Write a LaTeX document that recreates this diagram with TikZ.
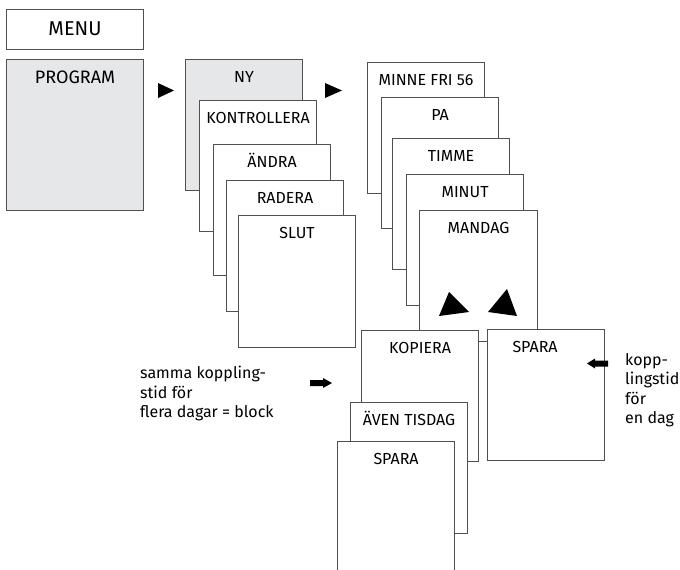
\documentclass[tikz,border=0pt]{standalone}
\usepackage{fontspec}
\setmainfont{Fira Sans}
\definecolor{boxgray}{HTML}{E6E7E8}
\definecolor{edge}{HTML}{505050}
\tikzset{
  x=1pt,y=-1pt,
  screen/.style={draw=edge, line width=1.1pt, fill=white, anchor=north west,
    minimum width=117pt, minimum height=131pt, inner sep=0pt},
  shaded/.style={fill=boxgray},
  lbl/.style={anchor=base, inner sep=0pt, font=\fontsize{16}{19.5}\selectfont},
  note/.style={anchor=north west, inner sep=0pt, align=left, font=\fontsize{16}{19.5}\selectfont},
  tri/.style={fill=black, draw=none},
}
\newcommand{\screenbox}[5]{% name, x, y, label, extra style
  \node[screen,#5] (#1) at (#2,#3) {};
  \node[lbl] (#1t) at ([yshift=-23pt]#1.north) {#4};
}
\begin{document}
\begin{tikzpicture}
\useasboundingbox (0,0) rectangle (680,570);
% menu column
\node[screen, minimum width=137pt, minimum height=40pt] (menu) at (6,9) {};
\node[anchor=center, inner sep=0pt, font=\fontsize{20}{24}\selectfont] (menut) at ([yshift=1pt]menu.center) {MENU};
\node[screen, shaded, minimum width=137pt, minimum height=151pt] (prog) at (6,59) {};
\node[lbl, font=\fontsize{18}{22}\selectfont] (progt) at ([yshift=-24pt]prog.north) {PROGRAM};
% arrows
\fill[tri] (158,83) -- (158,98) -- (174,90.5) -- cycle;
\fill[tri] (325,83) -- (325,98) -- (342,90.5) -- cycle;
% stack 1
\screenbox{ny}{185}{59}{NY}{shaded}
\screenbox{kon}{199}{100}{KONTROLLERA}{}
\screenbox{and}{213}{144}{ÄNDRA}{}
\screenbox{rad}{226}{180}{RADERA}{}
\screenbox{slut}{238}{215}{SLUT}{minimum height=132pt}
% stack 2
\screenbox{minne}{367}{62}{MINNE FRI 56}{}
\screenbox{pa}{381}{97}{PA}{}
\screenbox{timme}{392}{138}{TIMME}{}
\screenbox{minut}{406}{174}{MINUT}{}
\screenbox{mandag}{419}{210}{MANDAG}{minimum width=118pt}
\fill[tri] (449,292) -- (439,316) -- (469,312) -- cycle;
\fill[tri] (507,289) -- (488,312) -- (517,316) -- cycle;
% lower
\screenbox{kop}{361}{330}{KOPIERA}{}
\node[screen] (spara) at (487,329) {};
\node[lbl] (sparat) at ([xshift=-11pt,yshift=-23pt]spara.north) {SPARA};
\screenbox{aven}{350}{402}{ÄVEN TISDAG}{}
\screenbox{spara2}{337}{441}{SPARA}{minimum height=140pt}
% block arrows
\fill[tri] (310,380) -- (323,380) -- (323,378) -- (332,383) -- (323,388) -- (323,386) -- (310,386) -- cycle;
\fill[tri] (608,360.5) -- (595,360.5) -- (595,358.5) -- (587,363.5) -- (595,368.5) -- (595,366.5) -- (608,366.5) -- cycle;
% notes
\node[note] (noteL) at (140,366) {samma koppling-\\stid för\\flera dagar = block};
\node[note] (noteR) at (625,353) {kopp-\\lingstid\\för\\en dag};
\end{tikzpicture}
\end{document}
